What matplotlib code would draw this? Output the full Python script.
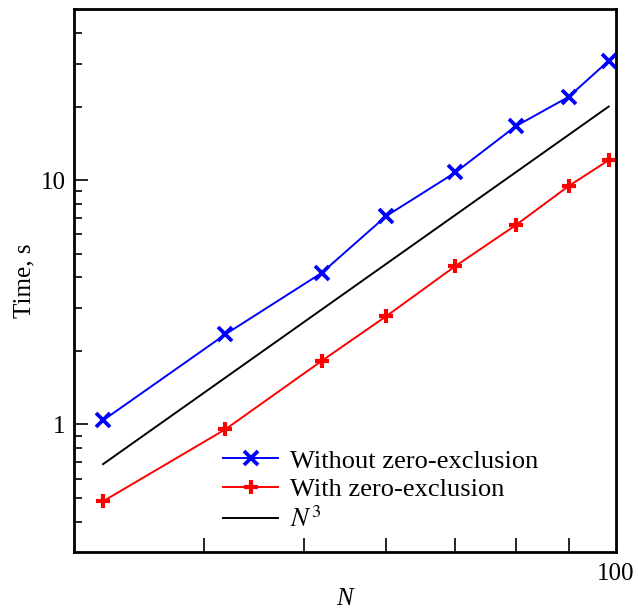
import matplotlib
matplotlib.use("Agg")
import matplotlib.pyplot as plt
from matplotlib.ticker import FixedLocator, NullFormatter, FixedFormatter
import numpy as np

plt.rcParams['font.family'] = ['Liberation Serif', 'DejaVu Serif']
plt.rcParams['mathtext.fontset'] = 'stix'

N = [32, 42, 52, 60, 70, 80, 90, 98.4]
time_without = [1.04, 2.34, 4.17, 7.12, 10.75, 16.6, 21.9, 30.8]
time_with = [0.485, 0.956, 1.82, 2.77, 4.45, 6.53, 9.45, 12.07]
n3_coeff = 2.1e-5

label_without = "Without zero-exclusion"
label_with = "With zero-exclusion"
label_n3 = r"$N^3$"

fig = plt.figure(figsize=(6.38, 6.12), dpi=100)
ax = fig.add_axes([0.116, 0.0976, 0.8495, 0.8872])

ax.plot(N, time_without, color='#0000ff', lw=1.4, marker='x', ms=9.5, mew=2.7,
        label=label_without)
ax.plot(N, time_with, color='#ff0000', lw=1.4, marker='+', ms=10.5, mew=3.0,
        label=label_with)
Narr = np.array(N)
ax.plot(Narr, n3_coeff * Narr**3, color='black', lw=1.4, label=label_n3)

ax.set_xscale('log')
ax.set_yscale('log')
ax.set_xlim(30, 100)
ax.set_ylim(0.3, 50)

ax.xaxis.set_major_locator(FixedLocator([100]))
ax.xaxis.set_major_formatter(FixedFormatter(['100']))
ax.xaxis.set_minor_locator(FixedLocator([40, 50, 60, 70, 80, 90]))
ax.xaxis.set_minor_formatter(NullFormatter())
ax.yaxis.set_major_locator(FixedLocator([1, 10]))
ax.yaxis.set_major_formatter(FixedFormatter(['1', '10']))
ax.yaxis.set_minor_locator(FixedLocator([0.4, 0.5, 0.6, 0.7, 0.8, 0.9,
                                         2, 3, 4, 5, 6, 7, 8, 9, 20, 30, 40]))
ax.yaxis.set_minor_formatter(NullFormatter())

ax.tick_params(which='both', direction='in', top=False, right=False,
               labelsize=18, width=1.2)
ax.tick_params(axis='y', which='major', length=10, pad=6)
ax.tick_params(axis='y', which='minor', length=6)
ax.tick_params(axis='x', which='major', length=0, pad=8)
ax.tick_params(axis='x', which='minor', length=10)

for s in ax.spines.values():
    s.set_linewidth(2.0)

ax.set_xlabel('N', fontsize=18, style='italic', labelpad=2)
ax.set_ylabel('Time, s', fontsize=18, labelpad=4)

ax.legend(loc='upper left', bbox_to_anchor=(0.275, 0.19), frameon=False,
          fontsize=19, handlelength=2.1, handletextpad=0.45, labelspacing=0.2,
          borderpad=0, borderaxespad=0)

fig.savefig('out.png', dpi=100)
